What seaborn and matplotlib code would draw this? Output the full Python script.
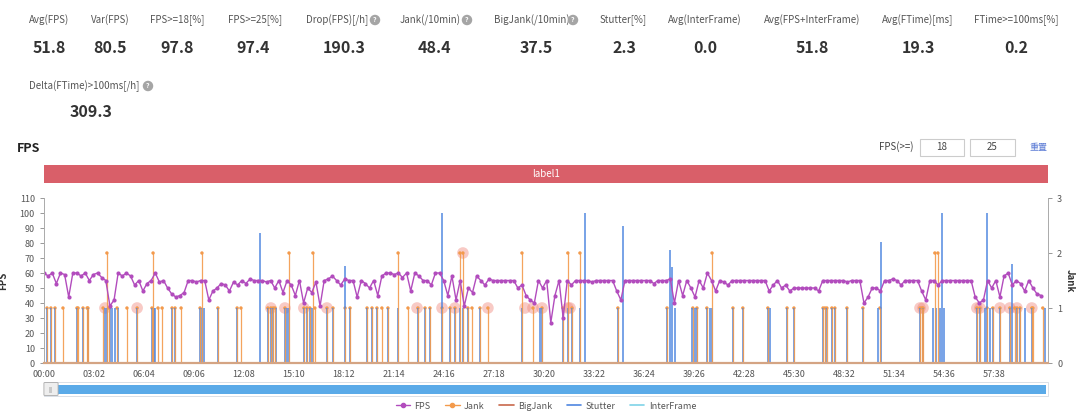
import matplotlib
matplotlib.use("Agg")
import matplotlib.pyplot as plt
from matplotlib.patches import Rectangle, FancyBboxPatch
from matplotlib.lines import Line2D
from matplotlib.ticker import FuncFormatter
import numpy as np
import pandas as pd
import seaborn as sns

# ---- summary numbers ----
stat_labels = ["Avg(FPS)", "Var(FPS)", "FPS>=18[%]", "FPS>=25[%]", "Drop(FPS)[/h]",
               "Jank(/10min)", "BigJank(/10min)", "Stutter[%]", "Avg(InterFrame)",
               "Avg(FPS+InterFrame)", "Avg(FTime)[ms]", "FTime>=100ms[%]"]
stat_values = ["51.8", "80.5", "97.8", "97.4", "190.3", "48.4", "37.5", "2.3", "0.0",
               "51.8", "19.3", "0.2"]
extra_label = "Delta(FTime)>100ms[/h]"
extra_value = "309.3"

# ---- FPS, one reading every 15 s ----
fps_step = 15
fps = [
    60, 58, 60, 53, 60, 59, 44, 60, 60, 58, 60, 55, 59, 60, 57, 55, 38, 42, 60, 58,
    60, 58, 52, 55, 48, 53, 55, 60, 54, 55, 50, 46, 44, 45, 47, 55, 55, 54, 55, 55,
    42, 48, 50, 53, 52, 48, 54, 52, 55, 53, 56, 55, 55, 55, 54, 55, 50, 55, 47, 55,
    52, 45, 55, 40, 50, 47, 54, 38, 55, 56, 58, 55, 52, 56, 55, 55, 44, 55, 53, 50,
    55, 45, 58, 60, 60, 59, 60, 57, 60, 48, 60, 58, 55, 55, 52, 60, 60, 55, 45, 58,
    42, 55, 38, 50, 47, 58, 55, 52, 56, 55, 55, 55, 55, 55, 55, 50, 52, 45, 42, 40,
    55, 50, 55, 27, 45, 55, 30, 55, 52, 55, 55, 55, 55, 54, 55, 55, 55, 55, 55, 48,
    42, 55, 55, 55, 55, 55, 55, 55, 53, 55, 55, 55, 56, 40, 55, 45, 55, 50, 44, 55,
    50, 60, 55, 48, 55, 54, 52, 55, 55, 55, 55, 55, 55, 55, 55, 55, 48, 52, 55, 50,
    52, 48, 50, 50, 50, 50, 50, 50, 48, 55, 55, 55, 55, 55, 55, 54, 55, 55, 55, 40,
    44, 50, 50, 48, 55, 55, 56, 55, 52, 55, 55, 55, 55, 48, 42, 55, 55, 52, 55, 55,
    55, 55, 55, 55, 55, 55, 44, 40, 42, 55, 50, 55, 44, 58, 60, 52, 55, 53, 48, 55,
    50, 46, 45,
]

# ---- Jank events (seconds, count) ----
jank_t = [11, 25, 40, 69, 120, 124, 142, 157, 160, 215, 229, 237, 266, 302, 339, 393, 397,
          415, 430, 466, 477, 499, 568, 575, 633, 703, 717, 815, 826, 834, 841, 877, 892,
          946, 957, 968, 979, 986, 1030, 1052, 1096, 1114,
          1176, 1194, 1212, 1230, 1252, 1289, 1325, 1361, 1387, 1405, 1449, 1478, 1496,
          1514, 1525, 1543, 1558, 1587, 1616, 1740, 1780, 1813, 1889, 1907, 1922, 1951,
          2089, 2268, 2362, 2377, 2413, 2432,
          2508, 2544, 2635, 2705, 2730, 2836, 2843, 2850, 2868, 2879, 2923, 2981, 3043,
          3189, 3196, 3200, 3243, 3254, 3396, 3407, 3433, 3454, 3480, 3516, 3534, 3542,
          3553, 3596, 3600, 3636]
jank_v = [1, 1, 1, 1, 1, 1, 1, 1, 1, 1, 2, 1, 1, 1, 1, 1, 2,
          1, 1, 1, 1, 1, 1, 2, 1, 1, 1, 1, 1, 1, 1, 1, 2,
          1, 1, 1, 2, 1, 1, 1, 1, 1,
          1, 1, 1, 1, 1, 2, 1, 1, 1, 1, 1, 1, 1,
          2, 2, 1, 1, 1, 1, 2, 1, 1, 1, 2, 1, 2,
          1, 1, 1, 1, 1, 2,
          1, 1, 1, 1, 1, 1, 1, 1, 1, 1, 1, 1, 1,
          1, 1, 1, 2, 2, 1, 1, 1, 1, 1, 1, 1, 1,
          1, 1, 1, 1]

# ---- Stutter events (seconds, value) ----
stutter_t = [11, 25, 40, 120, 142, 160, 222, 229, 240, 248, 258, 269, 339, 393, 400, 404,
             466, 477, 568, 575, 582, 633, 703, 786, 815, 826, 834, 844, 877, 884, 892,
             946, 957, 968, 975, 1030, 1052, 1096, 1114,
             1176, 1194, 1212, 1252, 1289, 1361, 1387, 1405, 1449, 1478, 1496, 1514, 1525,
             1543, 1587, 1740, 1805, 1813, 1889, 1907, 1922, 1951, 1969, 2089, 2108, 2268,
             2279, 2286, 2297, 2359, 2370, 2377, 2413, 2424, 2432,
             2508, 2544, 2635, 2643, 2705, 2730, 2836, 2847, 2868, 2879, 2923, 2981, 3036,
             3047, 3189, 3200, 3236, 3247, 3261, 3269, 3276, 3396, 3407, 3425, 3433, 3443,
             3454, 3480, 3516, 3524, 3542, 3553, 3571, 3596, 3644]
stutter_v = [1, 1, 1, 1, 1, 1, 1, 1, 1, 1, 1, 1, 1, 1, 1, 1,
             1, 1, 1, 1, 1, 1, 1, 2.37, 1, 1, 1, 1, 1, 1, 1,
             1, 1, 1, 1, 1, 1, 1.77, 1,
             1, 1, 1, 1, 1, 1, 1, 1, 2.73, 1, 1, 1, 1,
             1, 1, 1, 1, 1, 1, 1, 1, 1, 2.73, 1, 2.5, 1,
             2.05, 1.75, 1, 1, 1, 1, 1, 1, 1,
             1, 1, 1, 1, 1, 1, 1, 1, 1, 1, 1, 1, 1,
             2.2, 1, 1, 1, 1, 1, 2.73, 1, 1, 1, 1, 2.73, 1,
             1, 1, 1, 1.8, 1, 1, 1, 1, 1]

# ---- BigJank highlights (seconds, count) ----
bigjank_t = [222, 339, 826, 877, 946, 1030, 1358, 1449, 1496, 1525, 1616, 1751, 1780,
             1813, 1907, 1915, 3189, 3200, 3396, 3407, 3480, 3516, 3542, 3596]
bigjank_v = [1, 1, 1, 1, 1, 1, 1, 1, 1, 2, 1, 1, 1,
             1, 1, 1, 1, 1, 1, 1, 1, 1, 1, 1]

tick_step = 182
last_tick = 3458

C_FPS = "#b24cbd"
C_JANK = "#f39a4c"
C_BIG = "#c8684c"
C_STUT = "#4f86e0"
C_IF = "#7fd3e8"

sns.set_style("white")
plt.rcParams["font.family"] = ["Noto Sans CJK SC", "DejaVu Sans"]

W, H = 1080, 415
fig = plt.figure(figsize=(W / 100, H / 100), dpi=100)


def fx(x):
    return x / W


def fy(y):
    return 1 - y / H


# ---- header numbers ----
label_left = [29, 91, 150, 228, 306, 400, 494, 600, 668, 764, 882, 974]
value_cx = [49, 110, 177, 253, 344, 434, 536, 624, 705, 812, 918, 1016]
for lab, val, lx, vx in zip(stat_labels, stat_values, label_left, value_cx):
    fig.text(fx(lx), fy(20), lab, fontsize=7, color="#555555", ha="left", va="center")
    fig.text(fx(vx), fy(48), val, fontsize=11.5, fontweight="bold", color="#333333",
             ha="center", va="center")
fig.text(fx(29), fy(86), extra_label, fontsize=7, color="#555555", ha="left", va="center")
fig.text(fx(91), fy(112), extra_value, fontsize=11.5, fontweight="bold", color="#333333",
         ha="center", va="center")
for hx, hy in [(375, 20), (467, 20), (573, 20), (148, 86)]:
    fig.text(fx(hx), fy(hy), "?", fontsize=5, color="white", ha="center", va="center",
             fontweight="bold",
             bbox=dict(boxstyle="circle,pad=0.25", fc="#a5a5a5", ec="none"))

# ---- chart header ----
fig.text(fx(17), fy(148), "FPS", fontsize=9, fontweight="bold", color="#222222",
         ha="left", va="center")
fig.text(fx(914), fy(147), "FPS(>=)", fontsize=7, color="#444444", ha="right", va="center")
for bx0, bx1, txt in [(920, 964, "18"), (970, 1015, "25")]:
    fig.add_artist(Rectangle((fx(bx0), fy(156)), fx(bx1 - bx0), (156 - 139) / H,
                             transform=fig.transFigure, fc="white", ec="#cccccc", lw=0.8))
    fig.text(fx((bx0 + bx1) / 2), fy(147.5), txt, fontsize=7, color="#444444",
             ha="center", va="center")
fig.text(fx(1038), fy(147), "重置", fontsize=6.5, color="#5b7bd5", ha="center", va="center")

fig.add_artist(Rectangle((fx(44), fy(183)), fx(1048 - 44), (183 - 165) / H,
                         transform=fig.transFigure, fc="#d95f69", ec="none"))
fig.text(fx(546), fy(174), "label1", fontsize=7, color="white", ha="center", va="center")

# ---- main axes ----
ax = fig.add_axes([fx(44), fy(363), fx(1048 - 44), (363 - 198) / H])
ax2 = ax.twinx()

t_fps = np.arange(len(fps)) * fps_step
df_fps = pd.DataFrame({"t": t_fps, "fps": fps})

ax2.vlines(stutter_t, 0, stutter_v, color=C_STUT, lw=1.2, alpha=0.9)
ax2.vlines(jank_t, 0, jank_v, color=C_JANK, lw=0.9, alpha=0.9)
sns.scatterplot(x=bigjank_t, y=bigjank_v, ax=ax2, s=70, color="#f08a80", alpha=0.45,
                edgecolor="none")
sns.scatterplot(x=jank_t, y=jank_v, ax=ax2, s=6, color=C_JANK, edgecolor="none")

sns.lineplot(data=df_fps, x="t", y="fps", ax=ax, color=C_FPS, lw=1.0,
             marker="o", markersize=3.0, markeredgewidth=0)

ax.set_zorder(ax2.get_zorder() + 1)
ax.patch.set_visible(False)

xmax = 3655
for a in (ax, ax2):
    a.set_xlim(0, xmax)
ax.set_ylim(0, 110)
ax2.set_ylim(0, 3)
ax.set_yticks(range(0, 111, 10))
ax2.set_yticks([0, 1, 2, 3])
ax.set_xticks(np.arange(0, last_tick + 1, tick_step))
ax.xaxis.set_major_formatter(FuncFormatter(lambda v, p: f"{int(v) // 60:02d}:{int(v) % 60:02d}"))

for a in (ax, ax2):
    for s in a.spines.values():
        s.set_visible(False)
    a.tick_params(colors="#888888", labelcolor="#555555", labelsize=6.5, length=3, width=0.6)
    a.set_xlabel("")
ax.spines["left"].set_visible(True)
ax.spines["left"].set_color("#aaaaaa")
ax.spines["left"].set_linewidth(0.7)
ax2.spines["right"].set_visible(True)
ax2.spines["right"].set_color("#aaaaaa")
ax2.spines["right"].set_linewidth(0.7)
ax.spines["bottom"].set_visible(True)
ax.spines["bottom"].set_color("#d4a483")
ax.spines["bottom"].set_linewidth(1.6)
ax.tick_params(axis="x", pad=2)
ax.set_ylabel("FPS", fontsize=7, fontweight="bold", color="#333333", labelpad=8)
ax2.set_ylabel("Jank", fontsize=7, fontweight="bold", color="#333333", rotation=-90,
               labelpad=9)
ax.grid(False)
ax2.grid(False)

# ---- zoom slider ----
fig.add_artist(Rectangle((fx(44), fy(396)), fx(1048 - 44), 14 / H, transform=fig.transFigure,
                         fc="white", ec="#d5dbe3", lw=0.6))
fig.add_artist(Rectangle((fx(56), fy(394)), fx(1046 - 56), 9 / H, transform=fig.transFigure,
                         fc="#5aaae8", ec="none"))
fig.add_artist(FancyBboxPatch((fx(45), fy(395)), fx(12), 12 / H, transform=fig.transFigure,
                              boxstyle="round,pad=0.001", fc="#eeeeee", ec="#aaaaaa", lw=0.6))
fig.text(fx(51), fy(389.5), "|||", fontsize=4, color="#888888", ha="center", va="center")

# ---- legend ----
handles = [
    Line2D([], [], color=C_FPS, marker="o", markersize=3, lw=1),
    Line2D([], [], color=C_JANK, marker="o", markersize=3, lw=1),
    Line2D([], [], color=C_BIG, lw=1.2),
    Line2D([], [], color=C_STUT, lw=1.2),
    Line2D([], [], color=C_IF, lw=1.2),
]
fig.legend(handles, ["FPS", "Jank", "BigJank", "Stutter", "InterFrame"], ncol=5,
           loc="center", bbox_to_anchor=(fx(546), fy(406)), frameon=False, fontsize=6.5,
           handlelength=1.6, handletextpad=0.5, columnspacing=1.6, labelcolor="#555555")

fig.savefig("out.png", dpi=100)
